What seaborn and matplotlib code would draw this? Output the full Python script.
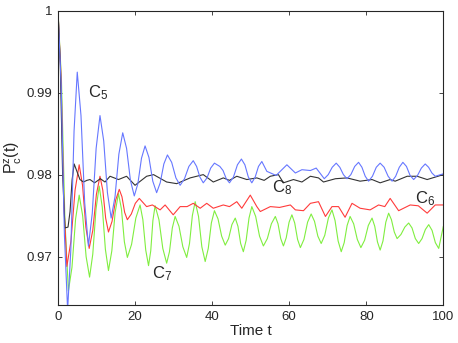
import seaborn as sns
import matplotlib.pyplot as plt
import pandas as pd
import numpy as np

# values (time, P_c^z)
t_c5 = [0, 0.83, 1.67, 2.5, 3.33, 4.17, 5.0, 5.97, 6.93, 7.9, 8.9, 9.9, 10.9, 11.87,
        12.83, 13.8, 14.8, 15.8, 16.8, 17.8, 18.8, 19.8, 20.73, 21.67, 22.6, 23.6,
        24.6, 25.6, 26.53, 27.47, 28.4, 29.5, 30.6, 31.7, 32.83, 33.97, 35.1, 35.97,
        36.83, 37.7, 38.67, 39.63, 40.6, 42.0, 42.83, 43.67, 44.5, 45.53, 46.57,
        47.6, 48.5, 49.4, 50.3, 51.17, 52.03, 52.9, 54.2, 56.6, 59.4, 61.6, 63.3,
        65.5, 67.0, 69.1, 70.13, 71.17, 72.2, 73.13, 74.07, 75.0, 76.0, 77.0, 78.0,
        78.87, 79.73, 80.6, 81.6, 82.6, 83.6, 84.63, 85.67, 86.7, 87.63, 88.57,
        89.5, 90.43, 91.37, 92.3, 93.3, 94.3, 95.3, 96.17, 97.03, 97.9, 100]
p_c5 = [1.0, 0.9909, 0.9726, 0.9635, 0.9708, 0.9853, 0.9925, 0.9872, 0.9766,
        0.9713, 0.9753, 0.9832, 0.9872, 0.9841, 0.9778, 0.9747, 0.9773, 0.9825,
        0.9851, 0.9832, 0.9793, 0.9774, 0.9789, 0.9820, 0.9835, 0.9821, 0.9792,
        0.9778, 0.9790, 0.9813, 0.9824, 0.9815, 0.9796, 0.9787, 0.9795, 0.9810,
        0.9817, 0.9810, 0.9797, 0.9790, 0.9796, 0.9808, 0.9814, 0.9810, 0.9805,
        0.9795, 0.9790, 0.9797, 0.9812, 0.9819, 0.9812, 0.9797, 0.9790, 0.9797,
        0.9810, 0.9816, 0.9804, 0.9799, 0.9812, 0.9802, 0.9806, 0.9805, 0.9808,
        0.9795, 0.9800, 0.9809, 0.9814, 0.9809, 0.9800, 0.9795, 0.9800, 0.9810,
        0.9815, 0.9809, 0.9798, 0.9792, 0.9798, 0.9809, 0.9814, 0.9809, 0.9798,
        0.9792, 0.9798, 0.9809, 0.9815, 0.9810, 0.9799, 0.9794, 0.9799, 0.9808,
        0.9813, 0.9809, 0.9802, 0.9798, 0.9801]

t_c6 = [0, 0.77, 1.53, 2.3, 3.37, 4.43, 5.5, 6.37, 7.23, 8.1, 9.03, 9.97, 10.9,
        11.63, 12.37, 13.1, 14.03, 14.97, 15.9, 16.6, 17.3, 18.0, 19.03, 20.07,
        21.1, 23.0, 24.5, 26.5, 27.8, 29.9, 31.7, 33.5, 35.1, 36.9, 38.6, 40.3,
        42.9, 44.5, 46.4, 47.7, 49.9, 51.6, 52.5, 55.1, 57.5, 60.3, 61.6, 63.7,
        65.5, 67.6, 69.4, 71.1, 72.8, 74.5, 76.3, 78.4, 81.0, 83.2, 84.8, 86.2,
        88.4, 91.4, 93.5, 95.8, 97.9, 100]
p_c6 = [1.0, 0.9922, 0.9766, 0.9688, 0.9719, 0.9781, 0.9812, 0.9787, 0.9736,
        0.9710, 0.9732, 0.9776, 0.9798, 0.9781, 0.9747, 0.9730, 0.9743, 0.9769,
        0.9782, 0.9773, 0.9754, 0.9745, 0.9752, 0.9765, 0.9771, 0.9761, 0.9763,
        0.9757, 0.9763, 0.9751, 0.9761, 0.9761, 0.9765, 0.9759, 0.9765, 0.9759,
        0.9763, 0.9761, 0.9767, 0.9759, 0.9775, 0.9761, 0.9755, 0.9761, 0.9760,
        0.9763, 0.9757, 0.9756, 0.9765, 0.9767, 0.9749, 0.9761, 0.9761, 0.9748,
        0.9765, 0.9759, 0.9757, 0.9763, 0.9761, 0.9771, 0.9756, 0.9763, 0.9762,
        0.9753, 0.9763, 0.9763]

t_c7 = [0, 0.9, 1.8, 2.7, 3.63, 4.57, 5.5, 6.4, 7.3, 8.2, 9.03, 9.87, 10.7, 11.5,
        12.3, 13.1, 13.97, 14.83, 15.7, 16.47, 17.23, 18.0, 19.1, 20.2, 21.3,
        22.03, 22.77, 23.5, 24.07, 24.63, 25.2, 26.2, 27.2, 28.2, 28.93, 29.67,
        30.4, 31.4, 32.4, 33.4, 34.13, 34.87, 35.6, 36.47, 37.33, 38.2, 39.0, 39.8,
        40.6, 41.53, 42.47, 43.4, 44.27, 45.13, 46.0, 46.7, 47.4, 48.1, 48.83,
        49.57, 50.3, 51.3, 52.3, 53.3, 54.33, 55.37, 56.4, 57.1, 57.8, 58.5, 59.23,
        59.97, 60.7, 61.43, 62.17, 62.9, 63.83, 64.77, 65.7, 66.57, 67.43, 68.3,
        69.23, 70.17, 71.1, 71.9, 72.7, 73.5, 74.27, 75.03, 75.8, 76.73, 77.67,
        78.6, 79.57, 80.53, 81.5, 82.2, 82.9, 83.6, 84.33, 85.07, 85.8, 86.53,
        87.27, 88.0, 89.0, 90.0, 91.0, 91.87, 92.73, 93.6, 94.47, 95.33, 96.2,
        97.07, 97.93, 98.8, 100]
p_c7 = [1.0, 0.9915, 0.9744, 0.9658, 0.9687, 0.9746, 0.9775, 0.9750, 0.9700,
        0.9675, 0.9703, 0.9758, 0.9786, 0.9760, 0.9709, 0.9683, 0.9707, 0.9754,
        0.9777, 0.9758, 0.9718, 0.9699, 0.9715, 0.9747, 0.9763, 0.9745, 0.9708,
        0.9689, 0.9707, 0.9744, 0.9762, 0.9745, 0.9710, 0.9692, 0.9706, 0.9735,
        0.9749, 0.9737, 0.9712, 0.9699, 0.9716, 0.9750, 0.9767, 0.9749, 0.9712,
        0.9694, 0.9710, 0.9741, 0.9756, 0.9746, 0.9725, 0.9714, 0.9722, 0.9739,
        0.9747, 0.9737, 0.9716, 0.9706, 0.9720, 0.9747, 0.9761, 0.9749, 0.9725,
        0.9713, 0.9722, 0.9740, 0.9749, 0.9740, 0.9722, 0.9713, 0.9723, 0.9742,
        0.9751, 0.9741, 0.9721, 0.9711, 0.9721, 0.9742, 0.9752, 0.9743, 0.9725,
        0.9716, 0.9726, 0.9747, 0.9757, 0.9744, 0.9719, 0.9706, 0.9717, 0.9738,
        0.9749, 0.9740, 0.9721, 0.9711, 0.9720, 0.9738, 0.9747, 0.9737, 0.9718,
        0.9708, 0.9719, 0.9742, 0.9753, 0.9745, 0.9730, 0.9722, 0.9727, 0.9736,
        0.9741, 0.9735, 0.9722, 0.9716, 0.9722, 0.9733, 0.9739, 0.9732, 0.9717,
        0.9710, 0.9737]

t_c8 = [0, 0.6, 1.2, 1.8, 2.6, 3.13, 3.67, 4.2, 5.7, 6.6, 7.5, 8.3, 9.5, 11.0,
        12.2, 13.5, 15.7, 17.8, 20.0, 23.0, 24.8, 28.2, 30.8, 34.3, 37.7, 40.3,
        42.9, 44.5, 46.4, 49.0, 51.6, 53.5, 55.1, 57.2, 58.5, 61.1, 63.3, 65.5,
        67.6, 68.9, 72.0, 75.0, 78.4, 81.5, 83.6, 86.2, 87.5, 90.6, 93.2, 95.8,
        97.9, 100]
p_c8 = [1.0, 0.9934, 0.9801, 0.9735, 0.9736, 0.9755, 0.9794, 0.9813, 0.9794,
        0.9791, 0.9793, 0.9794, 0.9790, 0.9795, 0.9791, 0.9798, 0.9794, 0.9798,
        0.9787, 0.9798, 0.9800, 0.9791, 0.9789, 0.9796, 0.9800, 0.9791, 0.9796,
        0.9793, 0.9798, 0.9794, 0.9796, 0.9793, 0.9798, 0.9800, 0.9790, 0.9794,
        0.9791, 0.9798, 0.9796, 0.9791, 0.9795, 0.9796, 0.9792, 0.9794, 0.9790,
        0.9794, 0.9792, 0.9798, 0.9798, 0.9794, 0.9797, 0.9800]

series = {"C5": (t_c5, p_c5), "C6": (t_c6, p_c6), "C7": (t_c7, p_c7), "C8": (t_c8, p_c8)}
colors = {"C5": "#6677ff", "C6": "#ff3b3b", "C7": "#80ee40", "C8": "#333333"}
order = ["C7", "C6", "C8", "C5"]

frames = []
for name, (t, p) in series.items():
    frames.append(pd.DataFrame({"t": t, "p": p, "curve": name}))
df = pd.concat(frames, ignore_index=True)

sns.set_style("ticks")
plt.rcParams['font.family'] = ['Liberation Sans', 'DejaVu Sans']
plt.rcParams['mathtext.default'] = 'regular'

fig = plt.figure(figsize=(4.58, 3.43), dpi=100)
ax = fig.add_axes([0.1266, 0.1108, 0.8414, 0.8582])

for name in order:
    sns.lineplot(data=df[df.curve == name], x="t", y="p", color=colors[name],
                 linewidth=0.8, sort=False, estimator=None, ax=ax)

ax.set_xlim(0, 100)
ax.set_ylim(0.9641, 1.0)
ax.set_xticks([0, 20, 40, 60, 80, 100])
ax.set_yticks([0.97, 0.98, 0.99, 1.0])
ax.set_yticklabels(["0.97", "0.98", "0.99", "1"])
ax.tick_params(direction="in", top=True, right=True, labelsize=9.5, length=3,
               width=0.6, pad=4)
for s in ax.spines.values():
    s.set_linewidth(0.8)

ax.set_xlabel("Time t", fontsize=11, labelpad=1)
ax.set_ylabel(r"P$_c^z$(t)", fontsize=11.5, labelpad=2)

# label positions: (left edge, baseline of the "C")
lab = {"C5": (7.8, 0.9894), "C7": (24.3, 0.9674), "C8": (55.5, 0.9779), "C6": (92.7, 0.9765)}
for name, (x, y) in lab.items():
    ax.text(x, y, "C$_{%s}$" % name[1], fontsize=12, va="baseline", ha="left")

fig.savefig("out.png", dpi=100)
